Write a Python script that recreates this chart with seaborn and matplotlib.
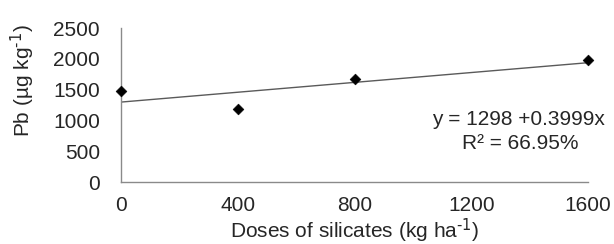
import numpy as np
import pandas as pd
import matplotlib
matplotlib.use('Agg')
import matplotlib.pyplot as plt
import seaborn as sns

# data
doses = [0, 400, 800, 1600]
pb = [1480, 1190, 1670, 1980]
intercept = 1298
slope = 0.3999
r2 = 66.95

xticks = [0, 400, 800, 1200, 1600]
yticks = [0, 500, 1000, 1500, 2000, 2500]

df = pd.DataFrame({'dose': doses, 'pb': pb})
line_x = [0, 1600]
fit = pd.DataFrame({'dose': line_x, 'pb': [intercept + slope * v for v in line_x]})

sns.set_style('white')
plt.rcParams['font.family'] = ['Liberation Sans', 'DejaVu Sans']
plt.rcParams['mathtext.default'] = 'regular'

text_col = '#262626'
axis_col = '#8a8a8a'
fs = 15

fig = plt.figure(figsize=(6.14, 2.44), dpi=100)
ax = fig.add_axes([0.197, 0.254, 0.761, 0.631])

sns.lineplot(data=fit, x='dose', y='pb', ax=ax, color='#5a5a5a', linewidth=1.0)
sns.scatterplot(data=df, x='dose', y='pb', ax=ax, marker='D', s=30,
                color='black', edgecolor='black', zorder=3, clip_on=False)

ax.set_xlim(0, 1600)
ax.set_ylim(0, 2500)
ax.set_xticks(xticks)
ax.set_yticks(yticks)
ax.tick_params(axis='both', labelsize=fs, colors=axis_col, labelcolor=text_col,
               length=5, width=1, direction='out')
ax.tick_params(axis='x', pad=5)
ax.tick_params(axis='y', pad=10)

for side in ['top', 'right']:
    ax.spines[side].set_visible(False)
for side in ['left', 'bottom']:
    ax.spines[side].set_color(axis_col)
    ax.spines[side].set_linewidth(1)

ax.set_xlabel(r'Doses of silicates (kg ha$^{\text{-1}}$)', fontsize=fs, color=text_col)
ax.xaxis.set_label_coords(0.5, -0.225)
ax.set_ylabel(r'Pb (µg kg$^{\text{-1}}$)', fontsize=fs, color=text_col)
ax.yaxis.set_label_coords(-0.18, 0.656)

ax.text(1.036, 0.403, f'y = {intercept} +{slope}x', transform=ax.transAxes,
        ha='right', va='center', fontsize=fs, color=text_col)
ax.text(0.854, 0.253, f'R² = {r2}%', transform=ax.transAxes,
        ha='center', va='center', fontsize=fs, color=text_col)

fig.savefig('out.png', dpi=100)
